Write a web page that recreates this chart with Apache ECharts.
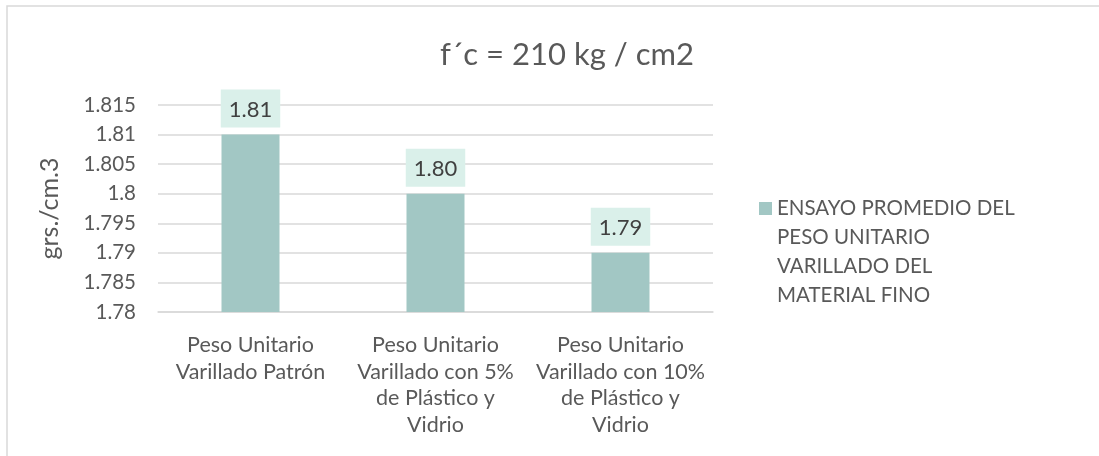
<!DOCTYPE html>
<html>
<head>
<meta charset="utf-8">
<script src="https://cdn.jsdelivr.net/npm/echarts@6/dist/echarts.min.js"></script>
<style>
  html, body { margin: 0; padding: 0; background: #ffffff; }
  #chart { width: 1099px; height: 456px; }
</style>
</head>
<body>
<div id="chart"></div>
<script>
// Categories and averaged unit weights (grs./cm.3)
var categories = [
  'Peso Unitario\nVarillado Patrón',
  'Peso Unitario\nVarillado con 5%\nde Plástico y\nVidrio',
  'Peso Unitario\nVarillado con 10%\nde Plástico y\nVidrio'
];
var seriesName = 'ENSAYO PROMEDIO DEL\nPESO UNITARIO\nVARILLADO DEL\nMATERIAL FINO';
var pesoUnitario = [1.81, 1.80, 1.79];
var yTicks = { min: 1.78, max: 1.815, step: 0.005 };

var FONT = 'Lato';
var LEG_LH = 29;            // legend line height
var LEG_BLOCK = LEG_LH * 4; // four wrapped lines
var SW = 13;                // legend swatch size
var swTop = LEG_LH / 2 - SW / 2;
// Swatch sits beside the first text line; the zero-length segments only set the icon's extent
var legendIcon = 'path://M0,' + swTop + 'h' + SW + 'v' + SW + 'h-' + SW + 'z' +
  'M0,0L0,0M' + SW + ',' + LEG_BLOCK + 'L' + SW + ',' + LEG_BLOCK;

var chart = echarts.init(document.getElementById('chart'), null, { renderer: 'canvas' });
chart.setOption({
  backgroundColor: '#ffffff',
  animation: false,
  textStyle: { fontFamily: FONT },
  title: {
    text: 'f´c = 210 kg / cm2',
    left: 562,
    textAlign: 'center',
    top: 34,
    textStyle: { fontFamily: FONT, fontSize: 31, fontWeight: 'normal', color: '#595959' }
  },
  graphic: [{
    type: 'rect',
    shape: { x: 7, y: 6, width: 1200, height: 600 },
    style: { fill: 'none', stroke: '#d9d9d9', lineWidth: 1.5 },
    silent: true,
    z: -1
  }],
  legend: {
    left: 759,
    top: 194,
    padding: 0,
    orient: 'vertical',
    itemWidth: SW,
    itemHeight: LEG_BLOCK,
    symbolKeepAspect: false,
    icon: legendIcon,
    textStyle: {
      fontFamily: FONT, fontSize: 20.5, color: '#595959',
      lineHeight: LEG_LH
    },
    data: [seriesName]
  },
  grid: { left: 158, right: 386, top: 105, bottom: 144, containLabel: false },
  xAxis: {
    type: 'category',
    data: categories,
    axisLine: { show: true, lineStyle: { color: '#d9d9d9', width: 1.5 } },
    axisTick: { show: false },
    axisLabel: {
      interval: 0, margin: 20, fontFamily: FONT, fontSize: 21.5,
      color: '#595959', lineHeight: 26.5, verticalAlign: 'top'
    }
  },
  yAxis: {
    type: 'value',
    min: yTicks.min,
    max: yTicks.max,
    interval: yTicks.step,
    name: 'grs./cm.3',
    nameLocation: 'middle',
    nameGap: 96,
    nameRotate: 90,
    nameTextStyle: { fontFamily: FONT, fontSize: 25, color: '#595959' },
    axisLine: { show: false },
    axisTick: { show: false },
    splitLine: { lineStyle: { color: '#d9d9d9', width: 1.5 } },
    axisLabel: {
      margin: 22, fontFamily: FONT, fontSize: 20.5, color: '#595959',
      formatter: function (v) { return String(+v.toFixed(3)); }
    }
  },
  series: [{
    name: seriesName,
    type: 'bar',
    data: pesoUnitario,
    barWidth: 58,
    itemStyle: { color: '#a2c7c4' },
    label: {
      show: true,
      position: 'top',
      distance: 7,
      formatter: function (p) { return p.value.toFixed(2); },
      fontFamily: FONT,
      fontSize: 22,
      lineHeight: 22,
      color: '#404040',
      backgroundColor: '#daf0ea',
      padding: [9, 8, 7, 8]
    }
  }]
});
</script>
</body>
</html>
